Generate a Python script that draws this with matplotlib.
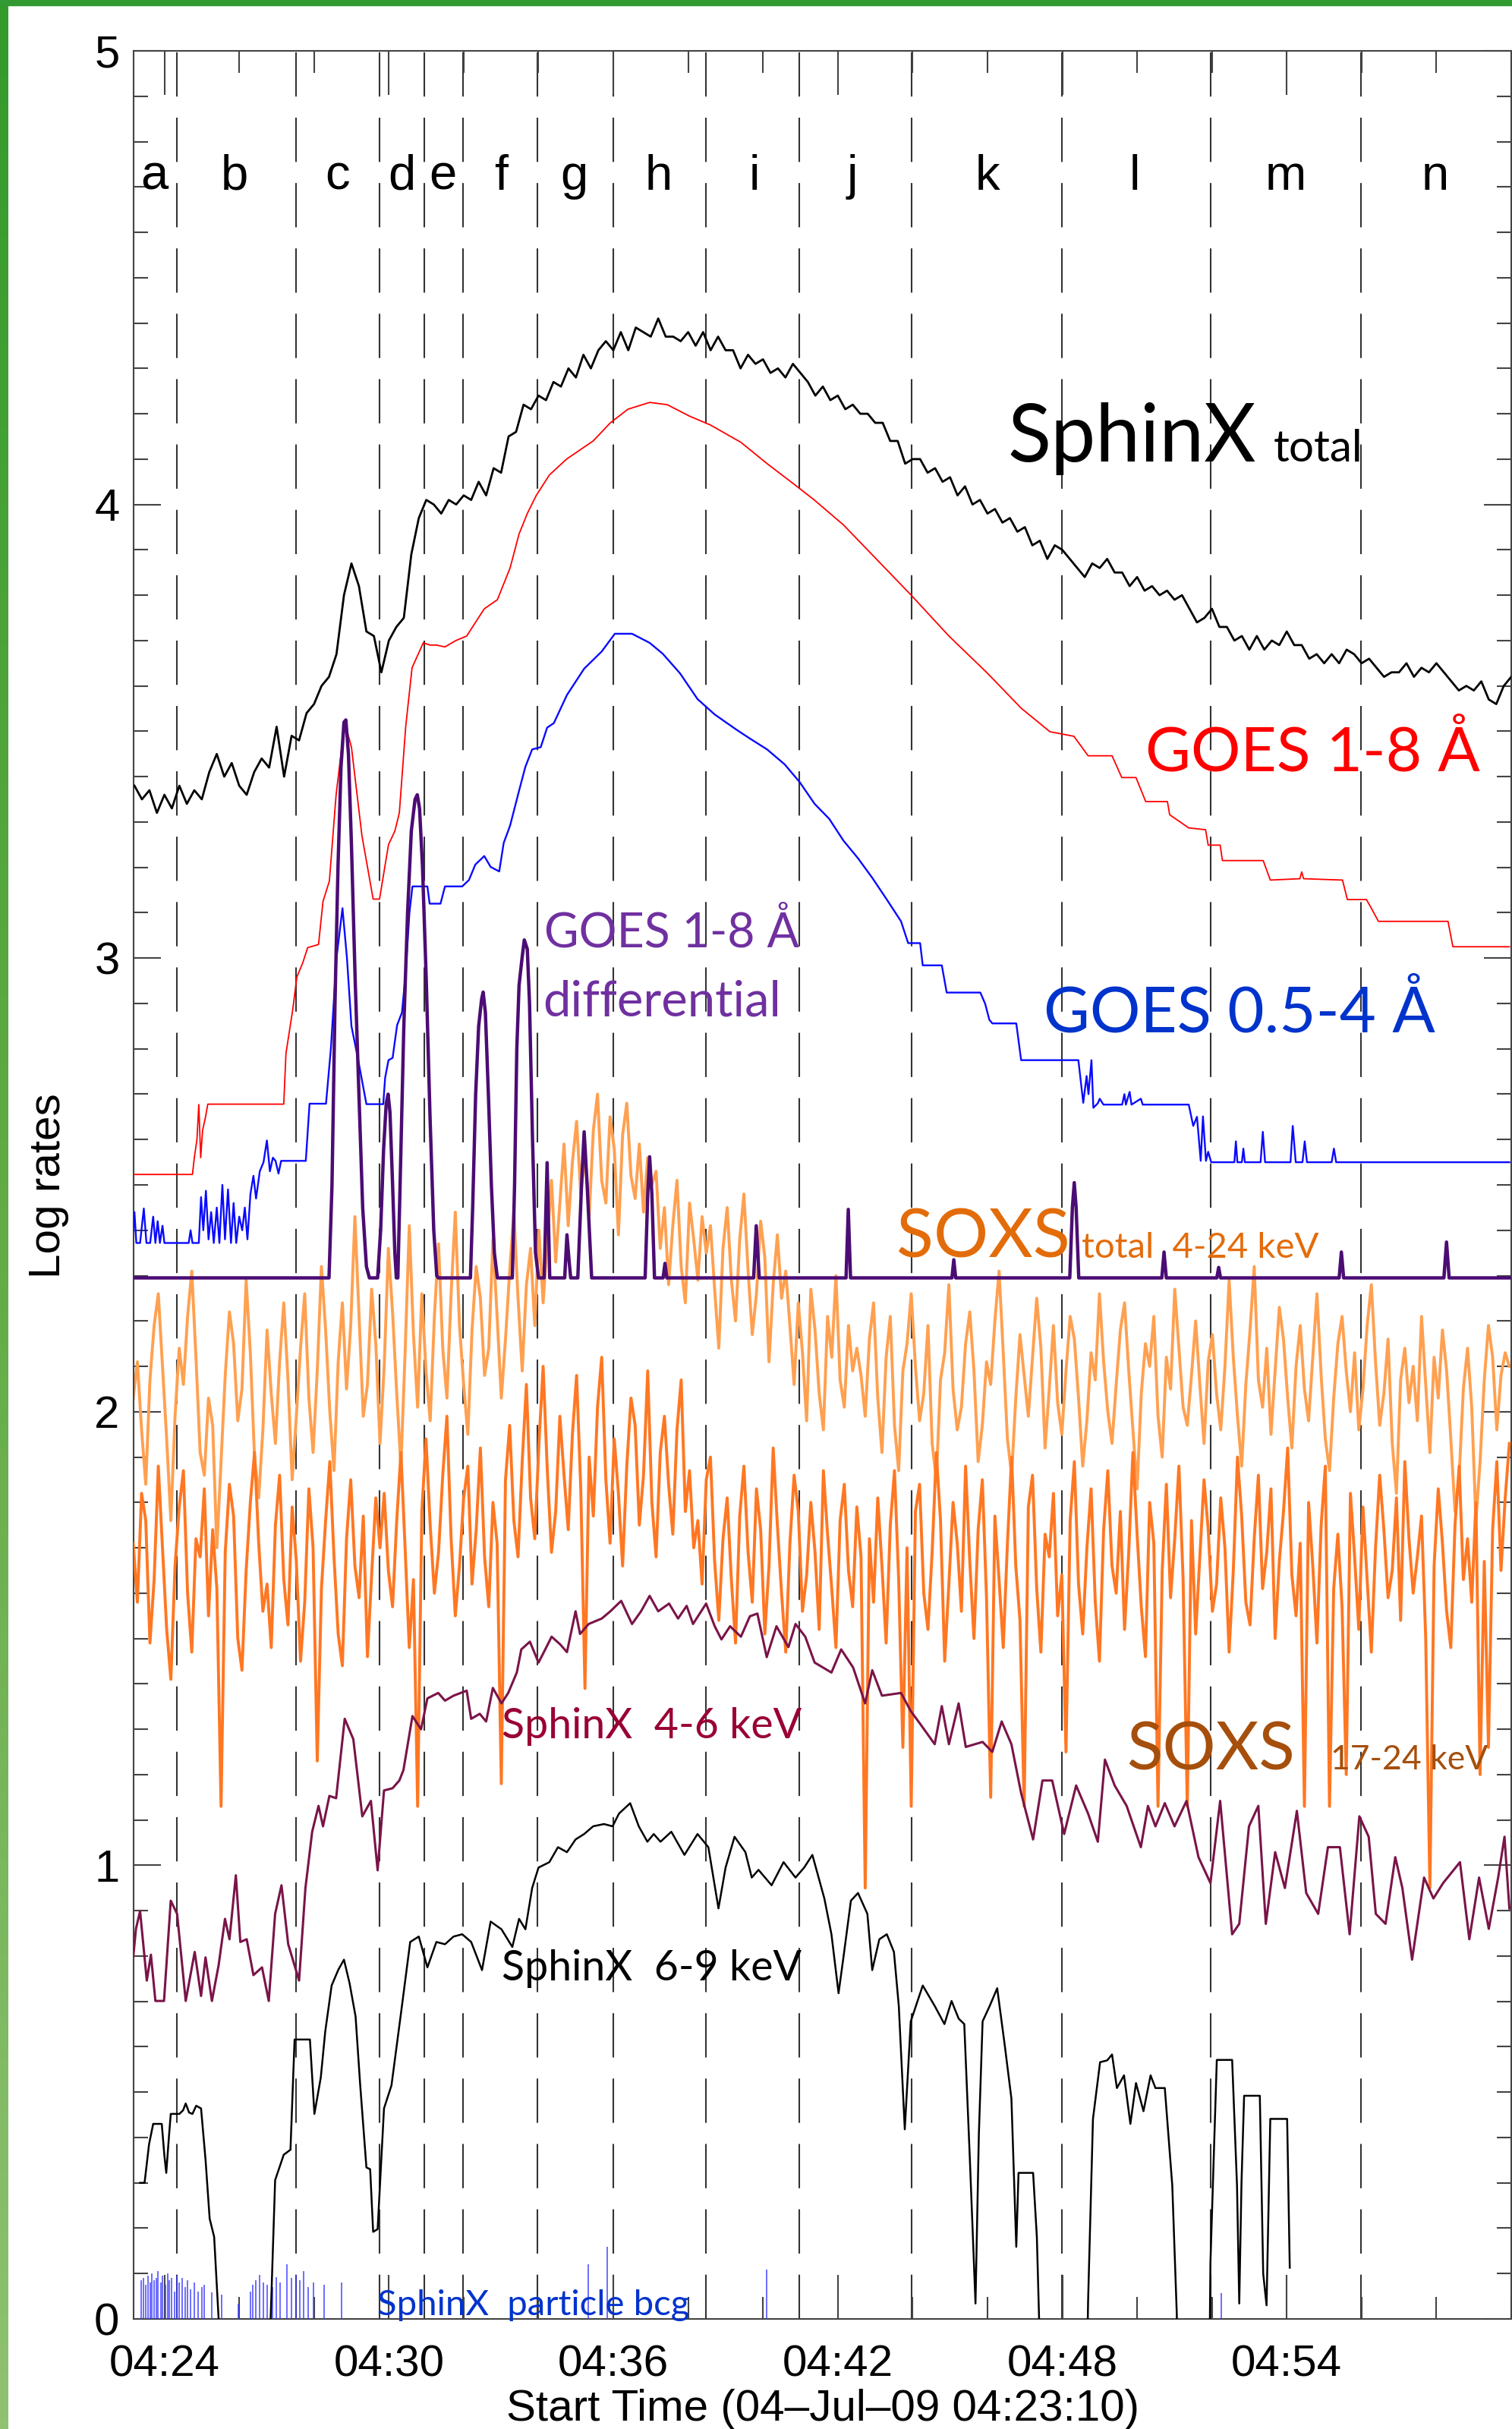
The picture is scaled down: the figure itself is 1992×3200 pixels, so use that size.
import numpy as np
import matplotlib
matplotlib.use("Agg")
import matplotlib.pyplot as plt
from matplotlib.ticker import MultipleLocator, FixedLocator, FuncFormatter
from matplotlib.colors import LinearSegmentedColormap
from matplotlib.patches import Rectangle

plt.rcParams['lines.scale_dashes'] = False

# time axis: minutes after 04:00 UT, 04-Jul-2009
T0, T1 = 23 + 10 / 60., 60.0

# interval boundaries (dashed lines) and interval letters
bounds = [24.33, 27.52, 29.75, 30.95, 31.99, 33.97, 36.0, 38.48, 40.96, 43.98, 47.99, 51.97, 55.98]
letters = list("abcdefghijklmn")
letter_t = [23.73, 25.88, 28.62, 30.34, 31.45, 33.0, 34.96, 37.2, 39.76, 42.39, 45.99, 49.94, 53.97, 57.96]

# SphinX total, sampled every 0.2 min from 23.2 to 60.0
sx_total = [3.38, 3.35, 3.37, 3.32, 3.36, 3.33, 3.38, 3.34, 3.37, 3.35,
            3.41, 3.45, 3.40, 3.43, 3.38, 3.36, 3.41, 3.44, 3.42, 3.51,
            3.40, 3.49, 3.48, 3.54, 3.56, 3.60, 3.62, 3.67, 3.80, 3.87,
            3.82, 3.72, 3.71, 3.63, 3.70, 3.73, 3.75, 3.89, 3.97, 4.01,
            4.00, 3.98, 4.01, 4.00, 4.02, 4.01, 4.05, 4.02, 4.08, 4.07,
            4.15, 4.16, 4.22, 4.21, 4.24, 4.23, 4.27, 4.26, 4.30, 4.28,
            4.33, 4.30, 4.34, 4.36, 4.34, 4.38, 4.34, 4.39, 4.38, 4.37,
            4.41, 4.37, 4.37, 4.36, 4.38, 4.35, 4.38, 4.34, 4.37, 4.34,
            4.34, 4.30, 4.33, 4.31, 4.32, 4.29, 4.30, 4.28, 4.31, 4.29,
            4.27, 4.24, 4.26, 4.23, 4.24, 4.21, 4.22, 4.20, 4.20, 4.18,
            4.18, 4.14, 4.14, 4.09, 4.10, 4.10, 4.07, 4.08, 4.05, 4.06,
            4.02, 4.04, 4.00, 4.01, 3.98, 3.99, 3.96, 3.97, 3.94, 3.95,
            3.91, 3.92, 3.88, 3.91, 3.90, 3.88, 3.86, 3.84, 3.87, 3.86,
            3.88, 3.85, 3.85, 3.82, 3.84, 3.81, 3.82, 3.80, 3.81, 3.79,
            3.80, 3.77, 3.74, 3.75, 3.77, 3.73, 3.73, 3.70, 3.71, 3.68,
            3.71, 3.68, 3.70, 3.69, 3.72, 3.69, 3.69, 3.66, 3.67, 3.65,
            3.67, 3.65, 3.68, 3.67, 3.65, 3.66, 3.64, 3.62, 3.63, 3.63,
            3.65, 3.62, 3.64, 3.63, 3.65, 3.63, 3.61, 3.59, 3.60, 3.59,
            3.61, 3.57, 3.56, 3.60, 3.62]

# GOES 1-8 A
goes_l = [(23.17, 2.523), (24.75, 2.523), (24.8, 2.56), (24.87, 2.60), (24.92, 2.677), (24.97, 2.56),
          (25.02, 2.62), (25.1, 2.65), (25.16, 2.678), (27.19, 2.678), (27.25, 2.79), (27.43, 2.886),
          (27.54, 2.958), (27.7, 2.99), (27.83, 3.023), (28.12, 3.03), (28.24, 3.125), (28.41, 3.17),
          (28.59, 3.36), (28.82, 3.52), (29.0, 3.465), (29.28, 3.27), (29.58, 3.13), (29.75, 3.13),
          (29.99, 3.25), (30.16, 3.28), (30.28, 3.32), (30.45, 3.51), (30.62, 3.64), (30.92, 3.695),
          (31.1, 3.69), (31.27, 3.69), (31.5, 3.686), (31.79, 3.70), (32.08, 3.71), (32.55, 3.77),
          (32.9, 3.79), (33.24, 3.86), (33.48, 3.935), (33.7, 3.98), (33.94, 4.02), (34.29, 4.065),
          (34.75, 4.10), (35.46, 4.14), (35.92, 4.18), (36.39, 4.21), (36.97, 4.225), (37.44, 4.22),
          (38.03, 4.195), (38.6, 4.175), (39.41, 4.137), (40.11, 4.09), (40.81, 4.046), (41.37, 4.01),
          (42.15, 3.955), (43.05, 3.878), (43.95, 3.801), (44.97, 3.71), (46.0, 3.628), (46.9, 3.551),
          (47.67, 3.499), (48.31, 3.489), (48.69, 3.446), (49.33, 3.446), (49.59, 3.398), (49.97, 3.398),
          (50.23, 3.345), (50.81, 3.345), (50.87, 3.316), (51.38, 3.287), (51.83, 3.283), (51.9, 3.249),
          (52.22, 3.249), (52.28, 3.215), (53.37, 3.215), (53.56, 3.172), (54.35, 3.175), (54.4, 3.19),
          (54.45, 3.175), (55.49, 3.172), (55.62, 3.129), (56.13, 3.129), (56.26, 3.11), (56.45, 3.081),
          (58.31, 3.081), (58.44, 3.025), (59.95, 3.025)]

# GOES 0.5-4 A
goes_s = [(23.17, 2.40), (23.2, 2.44), (23.25, 2.372), (23.35, 2.372), (23.45, 2.448), (23.52, 2.372),
          (23.62, 2.372), (23.7, 2.43), (23.76, 2.372), (23.82, 2.42), (23.88, 2.372), (23.95, 2.41),
          (24.0, 2.372), (24.65, 2.372), (24.7, 2.40), (24.75, 2.372), (24.92, 2.372), (24.98, 2.473),
          (25.04, 2.40), (25.11, 2.487), (25.18, 2.38), (25.25, 2.44), (25.32, 2.372), (25.4, 2.45),
          (25.47, 2.372), (25.55, 2.50), (25.62, 2.38), (25.7, 2.49), (25.78, 2.372), (25.85, 2.46),
          (25.92, 2.372), (26.0, 2.43), (26.08, 2.40), (26.15, 2.45), (26.22, 2.38), (26.3, 2.48),
          (26.38, 2.52), (26.45, 2.47), (26.55, 2.53), (26.65, 2.55), (26.74, 2.598), (26.82, 2.53),
          (26.9, 2.56), (26.97, 2.553), (27.05, 2.525), (27.12, 2.553), (27.78, 2.553), (27.88, 2.679),
          (28.32, 2.679), (28.45, 2.80), (28.6, 3.0), (28.76, 3.11), (28.88, 3.0), (29.0, 2.85),
          (29.17, 2.78), (29.4, 2.678), (29.85, 2.678), (29.9, 2.736), (29.99, 2.775), (30.1, 2.78),
          (30.22, 2.852), (30.35, 2.88), (30.45, 2.968), (30.55, 3.10), (30.63, 3.158), (31.03, 3.158),
          (31.09, 3.12), (31.38, 3.12), (31.5, 3.158), (31.96, 3.158), (32.14, 3.172), (32.31, 3.206),
          (32.55, 3.225), (32.72, 3.201), (32.95, 3.191), (33.07, 3.254), (33.24, 3.292), (33.48, 3.369),
          (33.65, 3.422), (33.83, 3.46), (34.06, 3.465), (34.23, 3.508), (34.41, 3.518), (34.76, 3.58),
          (35.22, 3.638), (35.69, 3.676), (36.04, 3.715), (36.5, 3.715), (36.97, 3.695), (37.32, 3.671),
          (37.78, 3.628), (38.25, 3.571), (38.71, 3.537), (39.3, 3.503), (39.65, 3.484), (40.11, 3.46),
          (40.58, 3.427), (40.98, 3.388), (41.38, 3.34), (41.77, 3.307), (42.15, 3.259), (42.54, 3.22),
          (42.92, 3.177), (43.31, 3.129), (43.69, 3.081), (43.88, 3.033), (44.2, 3.033), (44.27, 2.984),
          (44.78, 2.984), (44.91, 2.924), (45.81, 2.924), (45.94, 2.899), (46.05, 2.864), (46.13, 2.856),
          (46.77, 2.856), (46.9, 2.775), (48.43, 2.775), (48.56, 2.681), (48.65, 2.74), (48.7, 2.70),
          (48.78, 2.775), (48.83, 2.67), (48.95, 2.68), (49.0, 2.69), (49.1, 2.677), (49.6, 2.677),
          (49.66, 2.70), (49.7, 2.677), (49.8, 2.705), (49.85, 2.677), (50.1, 2.69), (50.15, 2.677),
          (51.38, 2.677), (51.5, 2.63), (51.6, 2.65), (51.7, 2.553), (51.76, 2.651), (51.84, 2.553),
          (51.9, 2.573), (51.98, 2.55), (52.6, 2.55), (52.64, 2.596), (52.68, 2.55), (52.8, 2.55),
          (52.84, 2.58), (52.88, 2.55), (53.3, 2.55), (53.36, 2.617), (53.42, 2.55), (54.1, 2.55),
          (54.16, 2.63), (54.24, 2.55), (54.42, 2.55), (54.48, 2.596), (54.54, 2.55), (55.2, 2.55),
          (55.26, 2.58), (55.32, 2.55), (59.95, 2.55)]

# GOES 1-8 A differential
goes_diff = [(23.17, 2.295), (28.40, 2.295), (28.48, 2.5), (28.56, 2.9), (28.64, 3.2), (28.72, 3.42),
             (28.8, 3.52), (28.85, 3.525), (28.92, 3.45), (29.0, 3.25), (29.1, 2.95), (29.2, 2.7),
             (29.3, 2.45), (29.4, 2.32), (29.48, 2.295), (29.7, 2.295), (29.78, 2.40), (29.86, 2.58),
             (29.93, 2.68), (29.98, 2.70), (30.03, 2.66), (30.1, 2.5), (30.16, 2.35), (30.2, 2.295),
             (30.24, 2.295), (30.3, 2.5), (30.4, 2.85), (30.5, 3.1), (30.6, 3.28), (30.7, 3.35),
             (30.76, 3.36), (30.82, 3.33), (30.9, 3.2), (31.0, 2.95), (31.1, 2.65), (31.2, 2.4),
             (31.28, 2.3), (31.32, 2.295), (32.18, 2.295), (32.24, 2.45), (32.32, 2.7), (32.4, 2.85),
             (32.48, 2.91), (32.52, 2.925), (32.58, 2.88), (32.66, 2.7), (32.74, 2.5), (32.82, 2.35),
             (32.9, 2.295), (33.3, 2.295), (33.36, 2.5), (33.42, 2.8), (33.48, 2.94), (33.56, 3.0),
             (33.62, 3.04), (33.7, 3.02), (33.76, 2.9), (33.84, 2.6), (33.92, 2.35), (34.0, 2.295),
             (34.15, 2.295), (34.23, 2.549), (34.3, 2.295), (34.7, 2.295), (34.76, 2.39), (34.82, 2.33),
             (34.86, 2.295), (35.05, 2.295), (35.15, 2.5), (35.22, 2.617), (35.3, 2.5), (35.42, 2.295),
             (36.85, 2.295), (36.92, 2.48), (36.97, 2.562), (37.03, 2.48), (37.1, 2.295), (37.33, 2.295),
             (37.38, 2.327), (37.43, 2.295), (39.75, 2.295), (39.82, 2.41), (39.9, 2.295), (42.22, 2.295),
             (42.28, 2.446), (42.34, 2.295), (45.05, 2.295), (45.1, 2.335), (45.15, 2.295), (48.2, 2.295),
             (48.27, 2.45), (48.32, 2.505), (48.37, 2.45), (48.44, 2.295), (50.66, 2.295), (50.72, 2.352),
             (50.78, 2.295), (52.13, 2.295), (52.18, 2.318), (52.23, 2.295), (55.4, 2.295), (55.46, 2.352),
             (55.52, 2.295), (58.2, 2.295), (58.27, 2.374), (58.34, 2.295), (59.95, 2.295)]

# SOXS total 4-24 keV (log rate x100), evenly sampled over the plot range
soxs_tot = [203, 211, 196, 184, 207, 219, 226, 210, 194, 176, 199, 214, 206, 221, 231, 212, 191, 186, 203, 197,
            170, 189, 208, 222, 215, 198, 205, 229, 213, 190, 181, 196, 218, 204, 193, 211, 224, 207, 185, 199,
            214, 226, 203, 191, 209, 232, 218, 200, 187, 211, 224, 205, 219,
            243, 221, 199, 206, 227, 215, 193, 210, 236, 222, 204, 188, 213, 241, 217, 201, 226, 209,
            198, 221, 237, 214, 203, 226, 244, 219, 206, 195, 218, 232, 225, 208, 214, 238, 221, 203,
            216, 231, 244, 225, 209, 228, 236, 219, 240,
            224, 238, 251, 233, 246, 259, 241, 255, 264, 248,
            257, 243, 262, 270, 251, 246, 265, 258, 239, 261, 268, 252, 247, 259, 244, 256, 250,
            253, 236, 245, 228, 241, 251, 232, 224, 246, 238, 229, 243, 235,
            241, 227, 214, 236, 245, 229, 220, 238, 248, 231, 217, 226, 242, 234, 211, 228, 239, 225,
            231, 219, 206, 224, 213, 198, 227, 218, 204, 196, 221, 212, 230, 207, 201, 219, 209, 214,
            208, 199, 216, 224, 203, 191, 212, 221, 197, 187, 209, 215,
            226, 210, 198, 204, 219, 193, 185, 207, 213, 228, 205, 196,
            201, 215, 222, 209, 189, 197, 211, 206, 220, 231, 213, 194,
            186, 203, 217, 208, 199, 212, 225, 214, 192, 205, 219, 202,
            195, 209, 221, 216, 203, 188, 198, 213, 207, 226, 211, 200,
            193, 206, 218, 224, 209, 196, 183, 204, 215, 210, 221, 199,
            190, 212, 205, 227, 214, 201, 197, 208, 220, 206, 193, 211,
            217, 204, 196, 210, 229, 212, 199, 188, 206, 218, 232, 207,
            201, 214, 195, 209, 223, 216, 203, 192, 210, 219, 205, 198,
            212, 226, 208, 194, 187, 203, 215, 221, 209, 200, 213, 196,
            205, 219, 228, 211, 197, 204, 216, 193, 182, 207, 214, 202,
            210, 198, 221, 206, 191, 212, 203, 218, 209, 194, 178, 186,
            205, 214, 201, 176, 189, 207, 219, 212, 196, 208, 213, 210]

# SOXS 17-24 keV (log rate x100)
soxs_hi = [171, 158, 182, 176, 149, 163, 188, 170, 152, 141, 166, 179, 187, 160, 147, 172, 168, 183, 155, 174,
           161, 113, 169, 184, 177, 150, 143, 165, 180, 191, 171, 156, 162, 148, 175, 186, 163, 153, 179, 167,
           145, 158, 183, 170, 123, 161, 176, 189, 168, 151, 144, 172, 185, 166, 159, 177, 146, 164, 181, 170,
           182, 165, 157, 176, 191, 170, 148, 163, 113, 178, 194, 175, 160, 169, 186, 199, 172, 155, 166, 181,
           188, 162, 174, 192, 168, 157, 180, 171,
           118, 185, 197, 176, 168, 189, 206, 181, 172, 193, 210, 187, 169, 178, 199, 186, 174, 195, 208, 183,
           139, 190, 177, 201, 212, 185, 171, 194, 182, 166, 188, 203, 197, 175, 186, 209, 180, 168, 191, 199,
           184, 173, 196, 207, 178, 187, 170,
           176, 162, 185, 190, 167, 154, 172, 181, 163, 149, 177, 188, 169, 158, 183, 174, 151, 166, 192, 175,
           160, 147, 171, 186, 178, 156, 164, 180, 169, 152, 187, 173, 161, 148, 176, 184, 165, 157, 179, 168,
           95,
           172, 158, 181, 166, 149, 175, 187, 163, 126, 170, 113, 178,
           184, 160, 152, 169, 191, 176, 145, 162, 180, 171, 156, 188,
           167, 150, 174, 185, 159, 115, 177, 163, 148, 171, 190, 166,
           154, 113, 179, 186, 161, 147, 173, 168, 182, 155, 164, 125,
           176, 189, 162, 151, 170, 183, 158, 145, 174, 187, 166, 160,
           178, 152, 169, 191, 173, 157, 146, 180, 171, 113, 165, 184,
           159, 172, 188, 163, 113, 176, 151, 168, 185, 174, 156, 162,
           181, 170, 147, 165, 190, 177, 158, 153, 172, 186, 161, 169,
           183, 150, 167, 178, 192, 164, 155, 171, 113, 180, 166, 149,
           175, 188, 113, 161, 173, 157, 120, 182, 168, 152, 179, 163,
           147, 170, 186, 174, 159, 165, 181, 154, 189, 172, 160, 168,
           177, 150, 95, 166, 183, 171, 156, 148, 175, 188, 163, 172,
           158, 180, 120, 167, 126, 174, 189, 165, 181, 193]

# SphinX 4-6 keV
sx46 = [(23.17, 0.80), (23.24, 0.86), (23.35, 0.899), (23.53, 0.746), (23.64, 0.803), (23.76, 0.701),
        (23.99, 0.701), (24.17, 0.922), (24.34, 0.893), (24.57, 0.701), (24.81, 0.809), (24.98, 0.712),
        (25.1, 0.797), (25.27, 0.701), (25.45, 0.78), (25.62, 0.882), (25.74, 0.837), (25.91, 0.978),
        (26.03, 0.831), (26.2, 0.837), (26.38, 0.758), (26.61, 0.775), (26.79, 0.701), (26.96, 0.893),
        (27.13, 0.956), (27.31, 0.826), (27.6, 0.746), (27.77, 0.95), (27.95, 1.074), (28.12, 1.131),
        (28.24, 1.086), (28.41, 1.153), (28.59, 1.148), (28.82, 1.323), (29.05, 1.278), (29.29, 1.108),
        (29.52, 1.142), (29.7, 0.989), (29.87, 1.165), (30.1, 1.17), (30.28, 1.187), (30.39, 1.21),
        (30.63, 1.329), (30.86, 1.3), (31.03, 1.368), (31.32, 1.38), (31.5, 1.363), (31.73, 1.374),
        (32.08, 1.385), (32.2, 1.323), (32.43, 1.334), (32.6, 1.317), (32.78, 1.391), (33.01, 1.357),
        (33.19, 1.38), (33.42, 1.425), (33.54, 1.476), (33.77, 1.493), (34.0, 1.447), (34.18, 1.476),
        (34.35, 1.504), (34.58, 1.487), (34.76, 1.47), (34.99, 1.56), (35.11, 1.51), (35.34, 1.532),
        (35.69, 1.544), (35.92, 1.56), (36.21, 1.583), (36.5, 1.532), (36.74, 1.56), (36.97, 1.594),
        (37.2, 1.56), (37.49, 1.577), (37.73, 1.544), (37.96, 1.572), (38.13, 1.532), (38.48, 1.577),
        (38.71, 1.527), (38.89, 1.498), (39.12, 1.527), (39.41, 1.504), (39.65, 1.549), (39.85, 1.555),
        (40.1, 1.459), (40.36, 1.527), (40.68, 1.481), (40.87, 1.532), (41.13, 1.504), (41.38, 1.447),
        (41.83, 1.425), (42.09, 1.476), (42.41, 1.436), (42.73, 1.357), (42.92, 1.43), (43.18, 1.374),
        (43.69, 1.38), (43.95, 1.34), (44.2, 1.312), (44.59, 1.267), (44.78, 1.351), (44.97, 1.267),
        (45.23, 1.357), (45.42, 1.261), (45.87, 1.272), (46.13, 1.25), (46.38, 1.317), (46.64, 1.267),
        (46.9, 1.159), (47.22, 1.057), (47.47, 1.187), (47.73, 1.187), (48.05, 1.069), (48.37, 1.176),
        (48.69, 1.114), (48.95, 1.052), (49.14, 1.233), (49.4, 1.176), (49.72, 1.131), (50.1, 1.04),
        (50.29, 1.131), (50.49, 1.086), (50.74, 1.137), (51.0, 1.086), (51.32, 1.142), (51.64, 1.018),
        (51.96, 0.961), (52.22, 1.142), (52.54, 0.848), (52.73, 0.871), (52.99, 1.086), (53.24, 1.131),
        (53.44, 0.871), (53.69, 1.029), (53.95, 0.95), (54.27, 1.12), (54.52, 0.939), (54.84, 0.893),
        (55.1, 1.04), (55.42, 1.04), (55.68, 0.848), (55.94, 1.108), (56.19, 1.063), (56.38, 0.893),
        (56.64, 0.871), (56.9, 1.018), (57.09, 0.95), (57.35, 0.792), (57.67, 0.973), (57.92, 0.927),
        (58.18, 0.961), (58.63, 1.007), (58.88, 0.837), (59.14, 0.973), (59.4, 0.86), (59.65, 0.973),
        (59.82, 1.063), (59.95, 0.905)]

# SphinX 6-9 keV (drops below the axis where counts vanish)
sx69 = [(23.35, 0.30), (23.47, 0.30), (23.59, 0.385), (23.7, 0.43), (23.93, 0.43), (24.0, 0.36),
        (24.05, 0.322), (24.12, 0.40), (24.17, 0.452), (24.4, 0.452), (24.5, 0.46), (24.57, 0.475),
        (24.66, 0.455), (24.75, 0.452), (24.85, 0.47), (24.98, 0.464), (25.1, 0.351), (25.21, 0.221),
        (25.33, 0.181), (25.45, 0.0), (25.55, -0.4), (26.74, -0.4), (26.84, 0.0), (26.96, 0.306),
        (27.19, 0.362), (27.37, 0.373), (27.48, 0.616), (27.89, 0.616), (28.01, 0.452), (28.18, 0.532),
        (28.3, 0.634), (28.47, 0.735), (28.65, 0.77), (28.8, 0.792), (28.95, 0.74), (29.11, 0.667),
        (29.23, 0.52), (29.4, 0.334), (29.5, 0.33), (29.58, 0.192), (29.7, 0.198), (29.87, 0.464),
        (30.07, 0.515), (30.34, 0.684), (30.57, 0.831), (30.8, 0.843), (31.03, 0.775), (31.27, 0.831),
        (31.5, 0.826), (31.73, 0.843), (31.96, 0.848), (32.2, 0.831), (32.49, 0.769), (32.72, 0.876),
        (33.01, 0.859), (33.3, 0.82), (33.48, 0.882), (33.65, 0.859), (33.83, 0.95), (34.0, 0.995),
        (34.29, 1.007), (34.52, 1.04), (34.76, 1.029), (34.99, 1.057), (35.22, 1.069), (35.46, 1.086),
        (35.75, 1.091), (35.98, 1.086), (36.15, 1.114), (36.45, 1.137), (36.68, 1.086), (36.91, 1.052),
        (37.08, 1.069), (37.26, 1.052), (37.55, 1.074), (37.9, 1.023), (38.25, 1.069), (38.54, 1.04),
        (38.81, 0.905), (39.0, 0.995), (39.24, 1.063), (39.53, 1.029), (39.7, 0.973), (39.88, 0.99),
        (40.23, 0.956), (40.55, 1.007), (40.87, 0.973), (41.1, 0.995), (41.32, 1.023), (41.64, 0.927),
        (41.83, 0.848), (42.02, 0.718), (42.15, 0.797), (42.35, 0.922), (42.54, 0.939), (42.79, 0.893),
        (42.92, 0.769), (43.11, 0.837), (43.31, 0.848), (43.5, 0.809), (43.63, 0.69), (43.79, 0.418),
        (43.95, 0.656), (44.27, 0.735), (44.59, 0.69), (44.85, 0.65), (45.04, 0.701), (45.23, 0.662),
        (45.38, 0.65), (45.53, 0.351), (45.68, 0.034), (45.77, 0.407), (45.87, 0.656), (46.06, 0.69),
        (46.26, 0.729), (46.45, 0.611), (46.64, 0.486), (46.77, 0.159), (46.83, 0.322), (47.22, 0.322),
        (47.32, 0.181), (47.38, 0.0), (47.45, -0.4), (48.6, -0.4), (48.69, 0.04), (48.82, 0.441),
        (49.01, 0.566), (49.2, 0.57), (49.33, 0.583), (49.46, 0.509), (49.65, 0.537), (49.82, 0.43),
        (49.97, 0.52), (50.17, 0.458), (50.36, 0.537), (50.49, 0.509), (50.74, 0.509), (50.94, 0.294),
        (51.06, 0.012), (51.12, -0.4), (51.9, -0.4), (51.96, 0.125), (52.13, 0.571), (52.54, 0.571),
        (52.67, 0.294), (52.73, 0.034), (52.79, 0.3), (52.86, 0.492), (53.28, 0.492), (53.37, 0.1),
        (53.46, 0.03), (53.56, 0.441), (54.01, 0.441), (54.08, 0.113)]

# SphinX particle background spikes: time, height
bcg_t = [23.38, 23.45, 23.5, 23.56, 23.62, 23.66, 23.72, 23.78, 23.83, 23.9, 23.95, 24.02, 24.08,
         24.14, 24.2, 24.27, 24.33, 24.4, 24.48, 24.55, 24.62, 24.7, 24.8, 24.9, 25.0, 25.07,
         25.26, 25.54, 25.97, 26.3, 26.36, 26.45, 26.55, 26.65, 26.75, 26.88, 27.0, 27.1, 27.27,
         27.4, 27.52, 27.62, 27.72, 27.85, 27.98, 28.26, 28.73, 35.32, 35.84, 40.1, 52.26]
bcg_h = [0.085, 0.09, 0.075, 0.095, 0.08, 0.10, 0.085, 0.09, 0.105, 0.08, 0.095, 0.075, 0.10,
         0.085, 0.09, 0.06, 0.095, 0.08, 0.09, 0.07, 0.085, 0.065, 0.08, 0.06, 0.07, 0.075,
         0.058, 0.053, 0.033, 0.06, 0.075, 0.085, 0.097, 0.08, 0.075, 0.07, 0.092, 0.08, 0.12,
         0.09, 0.097, 0.085, 0.106, 0.07, 0.08, 0.075, 0.08, 0.12, 0.159, 0.108, 0.057]

ANN = ['Lato', 'DejaVu Sans']
IDL = ['Liberation Sans', 'DejaVu Sans']

fig = plt.figure(figsize=(19.92, 32), dpi=100)
W, H = 1992., 3200.
ax = fig.add_axes([175.5 / W, 145 / H, (1991 - 175.5) / W, (3055 - 67) / H])
ax.set_xlim(T0, T1)
ax.set_ylim(0, 5)

for b in bounds:
    ax.axvline(b, color='#333333', lw=1.5, ls=(0, (42, 20)), zorder=1)

t_soxs = np.linspace(T0, 59.95, len(soxs_tot))
ax.plot(t_soxs, np.array(soxs_tot) / 100., color='#ffa050', lw=2.8, zorder=2)
t_hi = np.linspace(T0, 59.95, len(soxs_hi))
ax.plot(t_hi, np.array(soxs_hi) / 100., color='#ff7722', lw=2.8, zorder=3)

ax.vlines(bcg_t, 0, bcg_h, color='#3a3aff', lw=1.3, alpha=0.8, zorder=3)

t, y = zip(*sx46)
ax.plot(t, y, color='#7a1448', lw=2.2, zorder=4)
t, y = zip(*sx69)
ax.plot(t, y, color='black', lw=1.8, zorder=4)
t, y = zip(*goes_s)
ax.plot(t, y, color='#0a0aff', lw=1.7, zorder=4)
t, y = zip(*goes_l)
ax.plot(t, y, color='#ff0000', lw=1.3, zorder=4)
t_sx = np.linspace(23.2, 60.0, len(sx_total))
ax.plot(t_sx, sx_total, color='black', lw=2.0, zorder=4)
t, y = zip(*goes_diff)
ax.plot(t, y, color='#4b0c73', lw=3.2, zorder=5)

for lt, lab in zip(letter_t, letters):
    ax.text(lt, 4.694, lab, ha='center', va='baseline', fontsize=47, family=IDL, zorder=6)

# annotations
ax.text(46.53, 4.094, 'SphinX', fontsize=76, family=ANN, color='black', va='baseline', zorder=6)
ax.text(53.65, 4.094, 'total', fontsize=42, family=ANN, color='black', va='baseline', zorder=6)
ax.text(50.22, 3.413, 'GOES 1-8 Å', fontsize=59, family=ANN, color='#ff0000', va='baseline', zorder=6)
ax.text(47.51, 2.838, 'GOES 0.5-4 Å', fontsize=60, family=ANN, color='#0033cc', va='baseline', zorder=6)
ax.text(34.15, 3.025, 'GOES 1-8 Å', fontsize=45, family=ANN, color='#7030a0', va='baseline', zorder=6)
ax.text(34.11, 2.873, 'differential', fontsize=47, family=ANN, color='#7030a0', va='baseline', zorder=6)
ax.text(43.56, 2.34, 'SOXS', fontsize=65, family=ANN, color='#e36c0a', va='baseline', zorder=6)
ax.text(48.52, 2.34, 'total  4-24 keV', fontsize=34, family=ANN, color='#e36c0a', va='baseline', zorder=6)
ax.text(33.01, 1.28, 'SphinX  4-6 keV', fontsize=40, family=ANN, color='#990033', va='baseline', zorder=6)
ax.text(49.72, 1.211, 'SOXS', fontsize=63, family=ANN, color='#a64f0c', va='baseline', zorder=6)
ax.text(55.17, 1.211, '17-24 keV', fontsize=32, family=ANN, color='#a64f0c', va='baseline', zorder=6)
ax.text(33.01, 0.747, 'SphinX  6-9 keV', fontsize=40, family=ANN, color='black', va='baseline', zorder=6)
ax.text(29.69, 0.008, 'SphinX  particle bcg', fontsize=34, family=ANN, color='#0033cc', va='baseline', zorder=6)

# axes styling (IDL-like)
ax.xaxis.set_major_locator(FixedLocator([24, 30, 36, 42, 48, 54]))
ax.xaxis.set_minor_locator(MultipleLocator(2))
ax.xaxis.set_major_formatter(FuncFormatter(lambda v, p: '04:%02d' % round(v)))
ax.yaxis.set_major_locator(MultipleLocator(1))
ax.yaxis.set_minor_locator(MultipleLocator(0.1))
ax.yaxis.set_major_formatter(FuncFormatter(lambda v, p: '%d' % round(v)))
ax.tick_params(which='both', direction='in', top=True, right=True, color='#444444', width=1.5)
ax.tick_params(axis='x', which='major', length=42, pad=24, labelsize=42)
ax.tick_params(axis='x', which='minor', length=21)
ax.tick_params(axis='y', which='major', length=26, pad=13, labelsize=43)
ax.tick_params(axis='y', which='minor', length=13.5)
for lab in ax.get_xticklabels() + ax.get_yticklabels():
    lab.set_family(IDL)
for s in ax.spines.values():
    s.set_color('#444444')
    s.set_linewidth(1.5)

fig.text(64 / W, 1 - 1562 / H, 'Log rates', rotation=90, ha='center', va='center',
         fontsize=42, family=IDL)
fig.text(1084 / W, 1 - 3174 / H, 'Start Time (04\u2013Jul\u201309 04:23:10)', ha='center', va='center',
         fontsize=42, family=IDL)

# green frame of the slide
gax = fig.add_axes([0, 0, 10 / W, 1])
gax.imshow(np.linspace(0, 1, 256).reshape(-1, 1), aspect='auto',
           cmap=LinearSegmentedColormap.from_list('frame', ['#339a2c', '#62ab46', '#8fc271']))
gax.set_axis_off()
fig.patches.append(Rectangle((0, 1 - 7 / H), 1, 7 / H, transform=fig.transFigure,
                             color='#339933', zorder=10))

fig.savefig('out.png', dpi=100)
